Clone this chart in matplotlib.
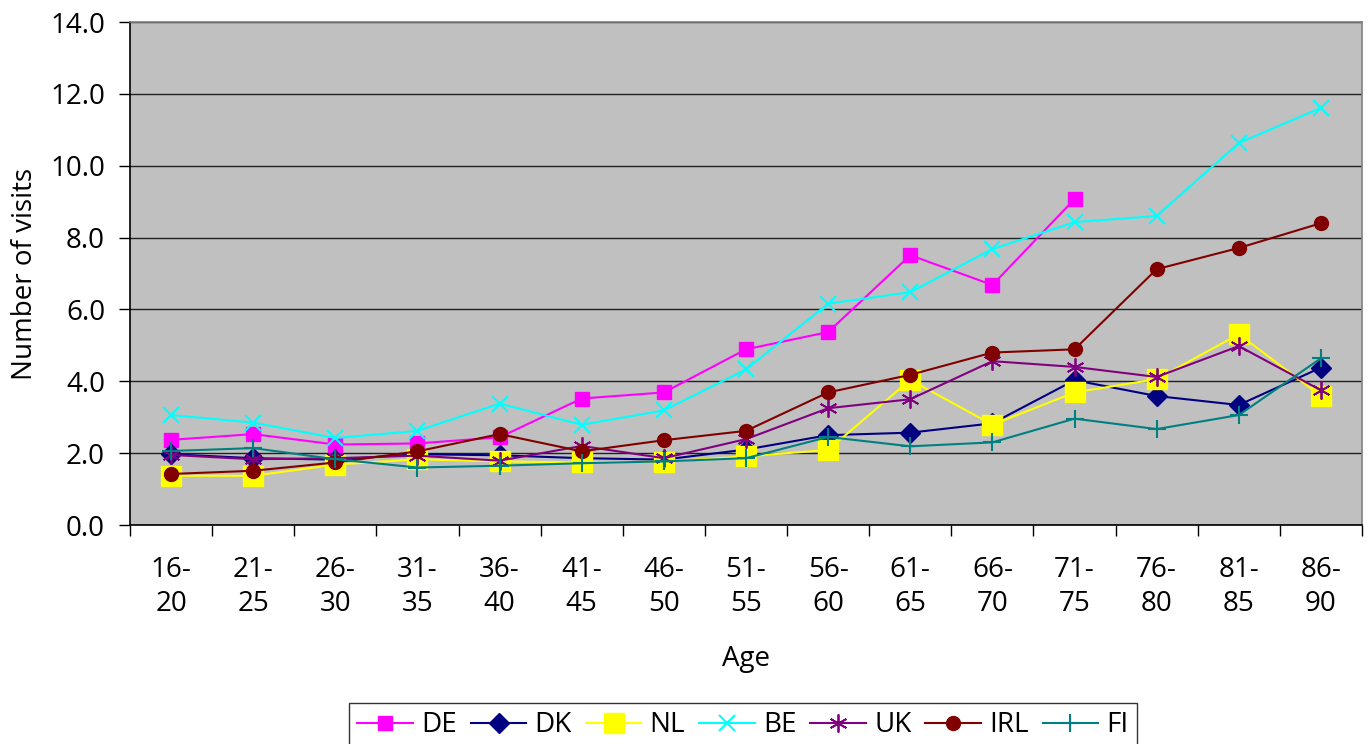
import matplotlib
matplotlib.use("Agg")
import matplotlib.pyplot as plt
import numpy as np

# Mean number of visits per age band, by country
AGE_BANDS = ["16-\n20", "21-\n25", "26-\n30", "31-\n35", "36-\n40", "41-\n45", "46-\n50",
             "51-\n55", "56-\n60", "61-\n65", "66-\n70", "71-\n75", "76-\n80", "81-\n85", "86-\n90"]

DE = [2.37, 2.53, 2.24, 2.27, 2.44, 3.52, 3.69, 4.89, 5.37, 7.51, 6.68, 9.07]
DK = [1.97, 1.86, 1.82, 1.97, 1.94, 1.86, 1.82, 2.10, 2.50, 2.57, 2.83, 4.03, 3.59, 3.34, 4.38]
NL = [1.37, 1.37, 1.68, 1.83, 1.77, 1.74, 1.76, 1.91, 2.09, 4.04, 2.79, 3.69, 4.06, 5.31, 3.59]
BE = [3.06, 2.85, 2.42, 2.62, 3.38, 2.79, 3.19, 4.33, 6.16, 6.48, 7.68, 8.43, 8.60, 10.63, 11.61]
UK = [1.95, 1.83, 1.86, 1.93, 1.79, 2.20, 1.86, 2.39, 3.25, 3.50, 4.56, 4.40, 4.12, 4.98, 3.75]
IRL = [1.42, 1.51, 1.74, 2.05, 2.53, 2.05, 2.36, 2.62, 3.69, 4.18, 4.80, 4.89, 7.12, 7.71, 8.40]
FI = [2.06, 2.14, 1.83, 1.60, 1.65, 1.72, 1.77, 1.86, 2.45, 2.19, 2.30, 2.96, 2.67, 3.06, 4.64]

SERIES = [
    ("DE", DE, dict(color="#FF00FF", marker="s", markersize=10)),
    ("DK", DK, dict(color="#000080", marker="D", markersize=10)),
    ("NL", NL, dict(color="#FFFF00", marker="s", markersize=14)),
    ("BE", BE, dict(color="#00FFFF", marker="x", markersize=12, markeredgewidth=1.5)),
    ("UK", UK, dict(color="#800080", marker=(6, 2, 0), markersize=13, markeredgewidth=1.3)),
    ("IRL", IRL, dict(color="#800000", marker="o", markersize=10)),
    ("FI", FI, dict(color="#008080", marker="+", markersize=13, markeredgewidth=1.5)),
]

FONT = 20
plt.rcParams.update({
    "font.family": ["Open Sans", "DejaVu Sans"],
    "font.size": FONT,
})

fig = plt.figure(figsize=(13.69, 7.44), dpi=100)
ax = fig.add_axes([130 / 1369, 1 - 525 / 744, 1232 / 1369, 503 / 744])
ax.set_facecolor("#C0C0C0")

for name, values, style in SERIES:
    x = np.arange(len(values))
    ax.plot(x, values, label=name, linewidth=1.5, zorder=3, **style)

ax.set_xlim(-0.5, len(AGE_BANDS) - 0.5)
ax.set_ylim(0, 14)
ax.set_yticks(np.arange(0, 15, 2))
ax.set_yticklabels([f"{v:.1f}" for v in np.arange(0, 15, 2)])
ax.yaxis.grid(True, color="#202020", linewidth=1.0)
ax.set_axisbelow(True)

ax.set_xticks(np.arange(len(AGE_BANDS)))
ax.set_xticklabels(AGE_BANDS, linespacing=1.32)
ax.set_xticks(np.arange(-0.5, len(AGE_BANDS)), minor=True)
ax.tick_params(axis="x", which="major", length=0, pad=22)
ax.tick_params(axis="x", which="minor", length=8, width=1.0, direction="out")
ax.tick_params(axis="y", length=8, width=1.0, direction="out", pad=10)

for side in ("left", "bottom"):
    ax.spines[side].set_color("black")
    ax.spines[side].set_linewidth(1.2)
for side in ("top", "right"):
    ax.spines[side].set_color("#808080")
    ax.spines[side].set_linewidth(1.2)

ax.set_xlabel("Age", labelpad=19)
ax.set_ylabel("Number of visits", labelpad=8)

fig.legend(
    loc="upper center",
    bbox_to_anchor=(743 / 1369, 1 - 703 / 744),
    ncol=len(SERIES),
    frameon=True,
    fancybox=False,
    edgecolor="black",
    handlelength=2.0,
    handletextpad=0.3,
    columnspacing=0.5,
    borderpad=0.3,
    borderaxespad=0.0,
    fontsize=FONT,
)

fig.savefig("out.png", dpi=100, facecolor="white")
